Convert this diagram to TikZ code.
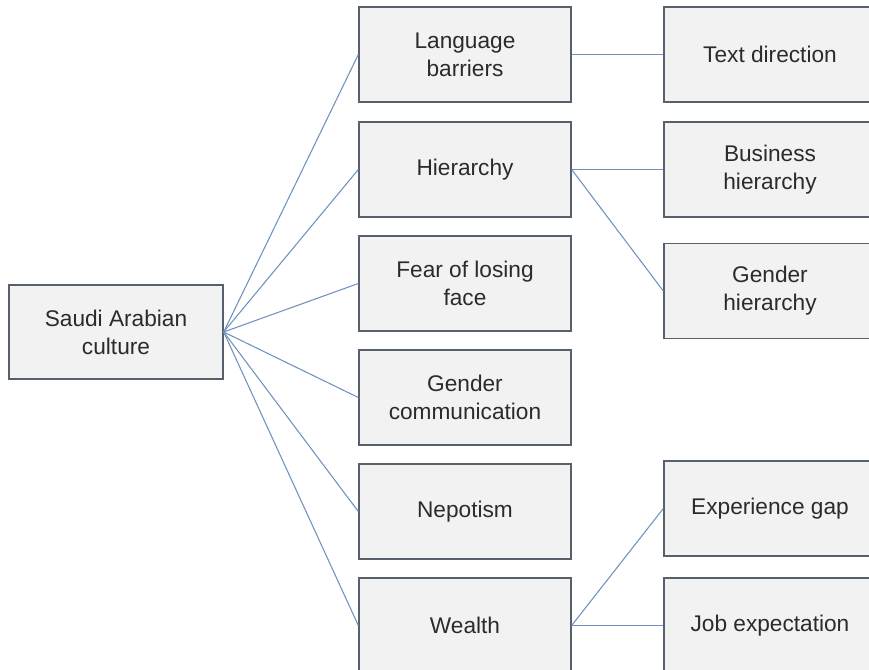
\documentclass[tikz,border=0pt]{standalone}
\usepackage{fontspec}
\setmainfont{Liberation Sans}
\usepackage{tikz}

\definecolor{boxfill}{HTML}{F2F2F2}
\definecolor{boxline}{HTML}{56616D}
\definecolor{linkline}{HTML}{6F92BE}
\definecolor{boxtext}{HTML}{2B2B2B}

\begin{document}
\begin{tikzpicture}[x=0.75pt,y=-0.75pt,
  box/.style={rectangle,draw=boxline,fill=boxfill,line width=1pt,minimum width=159pt,minimum height=71.25pt,align=center,text=boxtext,font=\fontsize{17}{21}\selectfont},
  link/.style={draw=linkline,line width=0.8pt}]
\useasboundingbox (0,0) rectangle (869,670);
\node[box,minimum width=160.5pt,minimum height=70.5pt] (saudi) at (116,332) {Saudi Arabian\\culture};
\node[box] (lang) at (465,54.5) {Language\\barriers};
\node[box] (hier) at (465,169.5) {Hierarchy};
\node[box] (fear) at (465,283.5) {Fear of losing\\face};
\node[box] (gcomm) at (465,397.5) {Gender\\communication};
\node[box] (nepo) at (465,511.5) {Nepotism};
\node[box] (wealth) at (465,625.5) {Wealth};
\node[box] (textdir) at (770,54.5) {Text direction};
\node[box] (bushier) at (770,169.5) {Business\\hierarchy};
\node[box] (genhier) at (770,291) {Gender\\hierarchy};
\node[box] (expgap) at (770,508.5) {Experience gap};
\node[box] (jobexp) at (770,625.5) {Job expectation};
\foreach \n in {lang,hier,fear,gcomm,nepo,wealth}
  \draw[link] (saudi.east) -- (\n.west);
\foreach \a/\b in {lang/textdir,hier/bushier,hier/genhier,wealth/expgap,wealth/jobexp}
  \draw[link] (\a.east) -- (\b.west);
\end{tikzpicture}
\end{document}
